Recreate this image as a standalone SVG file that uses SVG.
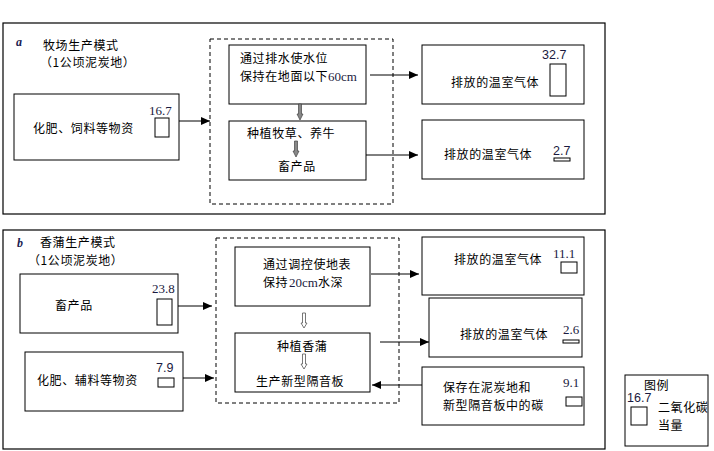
<svg xmlns="http://www.w3.org/2000/svg" width="714" height="451" viewBox="0 0 714 451">
<style>
.frame{fill:#fff;stroke:#000;stroke-width:1.2}
.box{fill:#fff;stroke:#000;stroke-width:1}
.dash{fill:none;stroke:#000;stroke-width:1;stroke-dasharray:4,3}
.bar{fill:#fff;stroke:#000;stroke-width:1}
.cn{font-family:"Noto Sans CJK SC","Noto Sans",sans-serif;font-size:12px;letter-spacing:0.6px;fill:#000}
.num{font-family:"Liberation Serif",serif;font-size:13px;fill:#1a1a40}
.nums{font-family:"Liberation Sans",sans-serif;font-size:12.5px;fill:#1a1a40}
.lab{font-family:"Liberation Serif",serif;font-size:12px;font-style:italic;font-weight:bold;fill:#1a2050}
.conn{stroke:#000;stroke-width:1;fill:none}
.garrow{fill:#888;stroke:#444;stroke-width:0.7}
.harrow{fill:#fff;stroke:#555;stroke-width:0.8}
</style>
<defs>
<marker id="ah" markerWidth="10" markerHeight="8" refX="9" refY="4" orient="auto" markerUnits="userSpaceOnUse">
<path d="M0,0 L9,4 L0,8 Z" fill="#000"/>
</marker>
</defs>
<rect width="714" height="451" fill="#fff"/>

<g id="panel-a">
<rect class="frame" x="3" y="23" width="602" height="191"/>
<text class="lab" x="16" y="46">a</text>
<text class="cn" x="43" y="49.5">牧场生产模式</text>
<text class="cn" x="40" y="67">（1公顷泥炭地）</text>
<rect class="dash" x="210" y="39" width="183" height="165"/>
</g>

<g id="a-input">
<rect class="box" x="14" y="94" width="165" height="66"/>
<text class="cn" x="33" y="133">化肥、饲料等物资</text>
<text class="num" x="149" y="115">16.7</text>
<rect class="bar" x="155" y="118" width="14" height="19"/>
</g>

<g id="a-drain">
<rect class="box" x="229" y="45" width="137" height="59"/>
<text class="cn" x="240" y="63">通过排水使水位</text>
<text class="cn" x="240" y="80.5">保持在地面以下</text>
<text class="num" x="328" y="80.5">60cm</text>
</g>

<g id="a-grow">
<rect class="box" x="229" y="121" width="137" height="59"/>
<text class="cn" x="247" y="138">种植牧草、养牛</text>
<text class="cn" x="278" y="171">畜产品</text>
</g>

<g id="a-ghg1">
<rect class="box" x="422" y="45" width="162" height="59"/>
<text class="cn" x="451" y="87">排放的温室气体</text>
<text class="nums" x="542" y="59">32.7</text>
<rect class="bar" x="550" y="64" width="16" height="32"/>
</g>

<g id="a-ghg2">
<rect class="box" x="422" y="120" width="162" height="59"/>
<text class="cn" x="444" y="159">排放的温室气体</text>
<text class="nums" x="553" y="155">2.7</text>
<rect class="bar" x="554" y="158" width="16" height="3"/>
</g>

<g id="panel-b">
<rect class="frame" x="3" y="230" width="602" height="219"/>
<text class="lab" x="17" y="247">b</text>
<text class="cn" x="40" y="247">香蒲生产模式</text>
<text class="cn" x="28" y="265">（1公顷泥炭地）</text>
<rect class="dash" x="216" y="238" width="183" height="165"/>
</g>

<g id="b-input1">
<rect class="box" x="20" y="274" width="158" height="59"/>
<text class="cn" x="55" y="310">畜产品</text>
<text class="num" x="152" y="293">23.8</text>
<rect class="bar" x="157" y="299" width="15" height="26"/>
</g>

<g id="b-input2">
<rect class="box" x="25" y="352" width="158" height="59"/>
<text class="cn" x="37" y="385">化肥、辅料等物资</text>
<text class="nums" x="156" y="372">7.9</text>
<rect class="bar" x="158" y="378" width="16" height="9"/>
</g>

<g id="b-water">
<rect class="box" x="235" y="247" width="135" height="59"/>
<text class="cn" x="263" y="269">通过调控使地表</text>
<text class="cn" x="263" y="286.5">保持</text>
<text class="num" x="289" y="286.5">20cm</text>
<text class="cn" x="318" y="286.5">水深</text>
</g>

<g id="b-grow">
<rect class="box" x="235" y="333" width="135" height="59"/>
<text class="cn" x="277" y="351">种植香蒲</text>
<text class="cn" x="256" y="386">生产新型隔音板</text>
</g>

<g id="b-ghg1">
<rect class="box" x="422" y="237" width="162" height="58"/>
<text class="cn" x="454" y="264">排放的温室气体</text>
<text class="num" x="553" y="258">11.1</text>
<rect class="bar" x="561" y="262" width="16" height="11"/>
</g>

<g id="b-ghg2">
<rect class="box" x="429" y="298" width="153" height="59"/>
<text class="cn" x="460" y="339">排放的温室气体</text>
<text class="num" x="563" y="334">2.6</text>
<rect class="bar" x="563" y="340" width="16" height="3"/>
</g>

<g id="b-carbon">
<rect class="box" x="422" y="367" width="162" height="58"/>
<text class="cn" x="443" y="392">保存在泥炭地和</text>
<text class="cn" x="443" y="409.5">新型隔音板中的碳</text>
<text class="num" x="563" y="387">9.1</text>
<rect class="bar" x="566" y="397" width="16" height="9"/>
</g>

<g id="legend">
<rect class="box" x="625" y="375" width="83" height="71"/>
<text class="cn" x="644" y="390">图例</text>
<text class="nums" x="627" y="402">16.7</text>
<rect class="bar" x="631" y="407" width="16" height="18"/>
<text class="cn" x="658" y="412">二氧化碳</text>
<text class="cn" x="658" y="429.5">当量</text>
</g>

<g id="connectors">
<line class="conn" x1="179" y1="121" x2="210" y2="121" marker-end="url(#ah)"/>
<line class="conn" x1="370" y1="75" x2="418" y2="75" marker-end="url(#ah)"/>
<line class="conn" x1="366" y1="155" x2="418" y2="155" marker-end="url(#ah)"/>
<path class="garrow" d="M298.5,104 L301.5,104 L301.5,114 L303,114 L300,120 L297,114 L298.5,114 Z"/>
<path class="garrow" d="M294.5,141 L297.5,141 L297.5,151 L299,151 L296,157 L293,151 L294.5,151 Z"/>
<line class="conn" x1="178" y1="306" x2="212" y2="306" marker-end="url(#ah)"/>
<line class="conn" x1="183" y1="378" x2="214" y2="378" marker-end="url(#ah)"/>
<line class="conn" x1="371" y1="274" x2="419" y2="274" marker-end="url(#ah)"/>
<line class="conn" x1="380" y1="342" x2="429" y2="342" marker-end="url(#ah)"/>
<line class="conn" x1="422" y1="385" x2="372" y2="385" marker-end="url(#ah)"/>
<path class="harrow" d="M302.5,313 L305.5,313 L305.5,323 L307,323 L304,328 L301,323 L302.5,323 Z"/>
<path class="harrow" d="M302.5,354 L305.5,354 L305.5,364 L307,364 L304,369 L301,364 L302.5,364 Z"/>
</g>
</svg>
